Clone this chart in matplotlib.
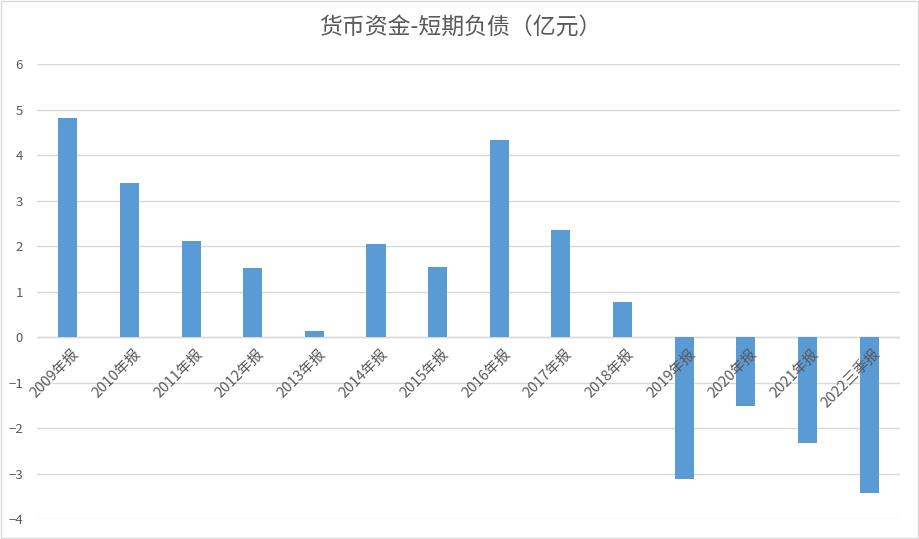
import matplotlib.pyplot as plt
from matplotlib.patches import Rectangle

plt.rcParams['font.family'] = ['Noto Sans CJK SC', 'DejaVu Sans']

categories = ['2009年报', '2010年报', '2011年报', '2012年报', '2013年报',
              '2014年报', '2015年报', '2016年报', '2017年报', '2018年报',
              '2019年报', '2020年报', '2021年报', '2022三季报']
values = [4.82, 3.39, 2.12, 1.51, 0.13, 2.04, 1.55, 4.34, 2.36, 0.77,
          -3.13, -1.51, -2.34, -3.42]
yticks = [-4, -3, -2, -1, 0, 1, 2, 3, 4, 5, 6]


def main():
    fig = plt.figure(figsize=(9.2, 5.39), dpi=100)
    ax = fig.add_axes([0.0402, 0.0371, 0.938, 0.844])

    x = list(range(len(categories)))
    ax.bar(x, values, width=0.31, color='#5B9BD5', zorder=3)

    ax.set_xlim(-0.5, len(categories) - 0.5)
    ax.set_ylim(-4, 6)
    ax.set_yticks(yticks)
    ax.yaxis.grid(True, color='#D9D9D9', lw=1, zorder=0)
    ax.tick_params(axis='y', length=0, labelsize=9.5, labelcolor='#595959', pad=10)
    ax.tick_params(axis='x', length=0, labelbottom=False)
    for s in ax.spines.values():
        s.set_visible(False)
    ax.axhline(0, color='#D9D9D9', lw=1, zorder=2)

    # category labels sit on the zero line, like Excel
    for xi, lab in zip(x, categories):
        ax.annotate(lab, xy=(xi, 0), xytext=(3, -7), textcoords='offset points',
                    rotation=45, rotation_mode='anchor', ha='right', va='top',
                    fontsize=10.5, color='#595959', zorder=4)

    fig.suptitle('货币资金-短期负债（亿元）', x=0.5, y=0.97, fontsize=16.5,
                 color='#595959', fontweight='light')

    fig.patches.append(Rectangle((0.001, 0.001), 0.997, 0.997, transform=fig.transFigure,
                                 fill=False, edgecolor='#D9D9D9', lw=1))

    fig.savefig('out.png', dpi=100)
    plt.close()


if __name__ == "__main__":
    main()
